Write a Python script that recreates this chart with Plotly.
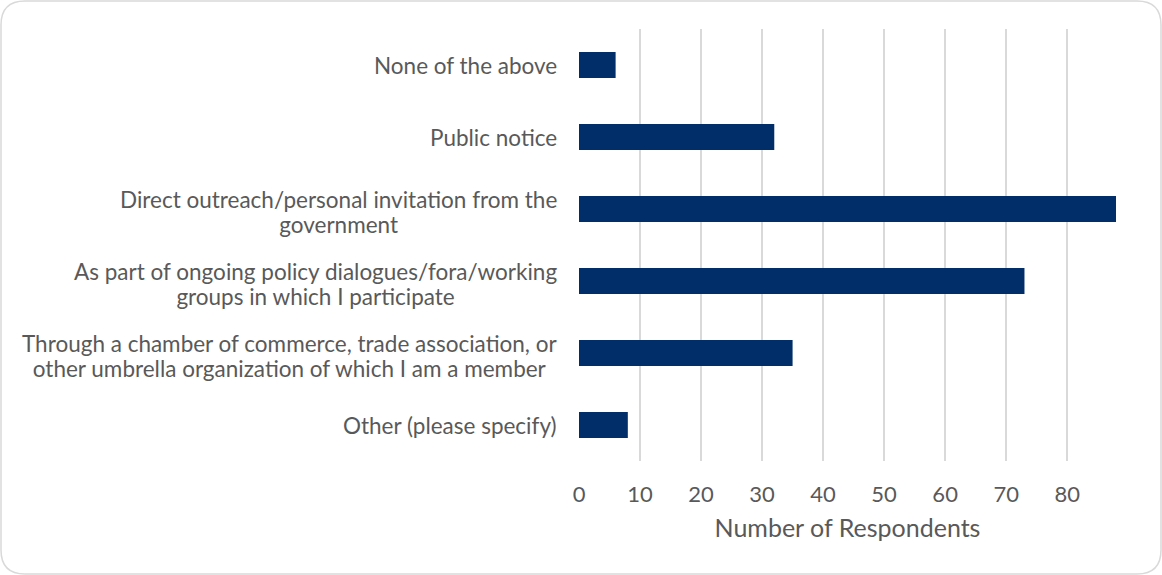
import plotly.graph_objects as go

categories = [
    "None of the above",
    "Public notice",
    "Direct outreach/personal invitation from the<br>government",
    "As part of ongoing policy dialogues/fora/working<br>groups in which I participate",
    "Through a chamber of commerce, trade association, or<br>other umbrella organization of which I am a member",
    "Other (please specify)",
]
values = [6, 32, 88, 73, 35, 8]
tick_vals = [0, 10, 20, 30, 40, 50, 60, 70, 80]
x_title = "Number of Respondents"

W, H = 1162, 575
L, R, T, B = 579, 46, 29, 114
FONT = "Lato, 'Open Sans', sans-serif"
TXT = "#595959"
BAR = "#012D69"

fig = go.Figure(go.Bar(
    y=categories, x=values, orientation="h",
    marker=dict(color=BAR, line=dict(width=0)),
    width=0.36,
))

annotations = []
for c in categories:
    lines = c.split("<br>")
    txt = "<br>".join(f'<span style="font-size:22.5px">{ln}</span>' for ln in lines)
    annotations.append(dict(
        xref="paper", yref="y", x=0, y=c, text=txt,
        xanchor="right", yanchor="middle", align="center",
        xshift=-20, yshift=(-3 if len(lines) > 1 else 0), showarrow=False,
        font=dict(family=FONT, size=19.3, color=TXT),
    ))

pw = W - L - R
ph = H - T - B
def px(x):
    return (x - L) / pw
def py(y):
    return (H - B - y) / ph

x0, y0, x1, y1, r = 1, 1, W - 1, H - 1, 24
path = (
    f"M {px(x0 + r)},{py(y0)} L {px(x1 - r)},{py(y0)} "
    f"Q {px(x1)},{py(y0)} {px(x1)},{py(y0 + r)} "
    f"L {px(x1)},{py(y1 - r)} Q {px(x1)},{py(y1)} {px(x1 - r)},{py(y1)} "
    f"L {px(x0 + r)},{py(y1)} Q {px(x0)},{py(y1)} {px(x0)},{py(y1 - r)} "
    f"L {px(x0)},{py(y0 + r)} Q {px(x0)},{py(y0)} {px(x0 + r)},{py(y0)} Z"
)

fig.update_layout(
    width=W, height=H,
    margin=dict(l=L, r=R, t=T, b=B, pad=0),
    paper_bgcolor="white", plot_bgcolor="white",
    showlegend=False,
    annotations=annotations,
    shapes=[dict(type="path", xref="paper", yref="paper", path=path,
                 line=dict(color="#d9d9d9", width=1.5), layer="below")],
)
fig.update_xaxes(
    range=[0, 88], tickvals=tick_vals, showgrid=True,
    gridcolor="#d9d9d9", gridwidth=1.5, zeroline=False,
    ticks="outside", ticklen=14, tickcolor="rgba(0,0,0,0)",
    tickfont=dict(family=FONT, size=22, color=TXT),
    title=dict(text=x_title, font=dict(family=FONT, size=25, color=TXT), standoff=13),
    showline=False, fixedrange=True,
)
fig.update_yaxes(
    autorange="reversed", showticklabels=False, showgrid=False,
    zeroline=False, showline=False, fixedrange=True,
)

fig.write_html(
    "out.html",
    config={"displayModeBar": False},
    post_script="document.body.style.margin='0';document.body.style.overflow='hidden';",
)
